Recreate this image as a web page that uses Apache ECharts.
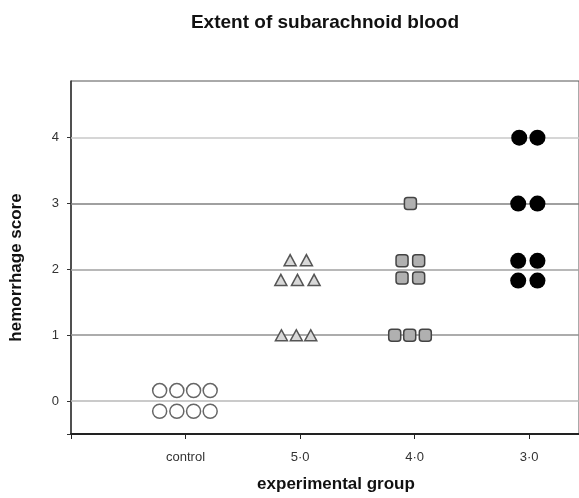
<!DOCTYPE html>
<html>
<head>
<meta charset="utf-8">
<script src="https://cdn.jsdelivr.net/npm/echarts@6/dist/echarts.min.js"></script>
<style>
	html, body { margin: 0; padding: 0; background: #fff; }
	#main { width: 579px; height: 498px; }
</style>
</head>
<body>
<div id="main"></div>
<script>
// 分组名称（x 轴位置 1..4）
var categories = ['control', '5·0', '4·0', '3·0'];
// 纵轴刻度
var scoreTicks = [0, 1, 2, 3, 4];

// 各组的点 [x 位置, 评分]，x 带有点图的横向错开
var controlPts = [
	[0.774, 0.16], [0.924, 0.16], [1.07, 0.16], [1.215, 0.16],
	[0.774, -0.155], [0.924, -0.155], [1.07, -0.155], [1.215, -0.155]
];
var group50Pts = [
	[1.913, 2.14], [2.055, 2.14],
	[1.832, 1.84], [1.977, 1.84], [2.122, 1.84],
	[1.837, 1.0], [1.967, 1.0], [2.093, 1.0]
];
var group40Pts = [
	[2.963, 3.0],
	[2.89, 2.13], [3.035, 2.13],
	[2.89, 1.87], [3.035, 1.87],
	[2.826, 1.0], [2.957, 1.0], [3.093, 1.0]
];
var group30Pts = [
	[3.913, 4.0], [4.072, 4.0],
	[3.904, 3.0], [4.072, 3.0],
	[3.904, 2.13], [4.072, 2.13],
	[3.904, 1.83], [4.072, 1.83]
];

var font = 'Liberation Sans, Arial, sans-serif';
var chart = echarts.init(document.getElementById('main'));

// 网格线颜色（原图各条线深浅不一）
var gridColors = ['#b8b8b8', '#909090', '#a0a0a0', '#808080', '#c8c8c8'];
var gridLines = scoreTicks.map(function(v, i) {
	return { yAxis: v, lineStyle: { color: gridColors[i], width: 1.5, type: 'solid' } };
});

var option = {
	animation: false,
	title: {
		text: 'Extent of subarachnoid blood',
		left: 320,
		top: 8,
		textAlign: 'center',
		textStyle: { fontFamily: font, fontSize: 19, fontWeight: 'bold', color: '#111' }
	},
	grid: {
		left: 71,
		top: 81,
		width: 510,
		height: 356,
		show: true,
		borderColor: '#555',
		borderWidth: 1
	},
	xAxis: {
		type: 'value',
		min: 0,
		max: 510 / 115,
		name: 'experimental group',
		nameLocation: 'middle',
		nameGap: 42,
		nameTextStyle: { fontFamily: font, fontSize: 17, fontWeight: 'bold', color: '#111', padding: [0, 0, 0, 22] },
		axisLine: { onZero: false, lineStyle: { color: '#222', width: 2 } },
		axisTick: { show: true, length: 5, customValues: [0, 1, 2, 3, 4], lineStyle: { color: '#222' } },
		axisLabel: {
			customValues: [1, 2, 3, 4],
			margin: 17,
			fontFamily: font,
			fontSize: 13,
			color: '#333',
			formatter: function(v) { return categories[Math.round(v) - 1]; }
		},
		splitLine: { show: false }
	},
	yAxis: {
		type: 'value',
		min: -0.5,
		max: -0.5 + 356 / 66.4,
		name: 'hemorrhage score',
		nameLocation: 'middle',
		nameGap: 46,
		nameTextStyle: { fontFamily: font, fontSize: 17, fontWeight: 'bold', color: '#111', padding: [0, 20, 0, 0] },
		axisLine: { show: true, onZero: false, lineStyle: { color: '#333', width: 1.5 } },
		axisTick: { show: true, length: 4, customValues: [-0.5, 0, 1, 2, 3, 4], lineStyle: { color: '#333' } },
		axisLabel: {
			customValues: scoreTicks,
			margin: 12,
			fontFamily: font,
			fontSize: 13,
			color: '#333'
		},
		splitLine: { show: false }
	},
	series: [
		{
			name: 'grid',
			type: 'scatter',
			data: [],
			silent: true,
			z: 1,
			markLine: { silent: true, symbol: 'none', z: 1, label: { show: false }, animation: false, data: gridLines }
		},
		{
			name: 'control',
			type: 'scatter',
			symbol: 'circle',
			symbolSize: 14,
			itemStyle: { color: '#fff', borderColor: '#666', borderWidth: 1.5, opacity: 1 },
			data: controlPts,
			z: 5
		},
		{
			name: '5·0',
			type: 'scatter',
			symbol: 'triangle',
			symbolSize: [12, 11],
			itemStyle: { color: '#d8d8d8', borderColor: '#555', borderWidth: 1.5, opacity: 1 },
			data: group50Pts,
			z: 5
		},
		{
			name: '4·0',
			type: 'scatter',
			symbol: 'roundRect',
			symbolSize: 12,
			itemStyle: { color: '#b0b0b0', borderColor: '#444', borderWidth: 1.5, opacity: 1 },
			data: group40Pts,
			z: 5
		},
		{
			name: '3·0',
			type: 'scatter',
			symbol: 'circle',
			symbolSize: 16,
			itemStyle: { color: '#000', opacity: 1 },
			data: group30Pts,
			z: 5
		}
	]
};

chart.setOption(option);
window.onresize = function() {
	chart.resize();
};
</script>
</body>
</html>
